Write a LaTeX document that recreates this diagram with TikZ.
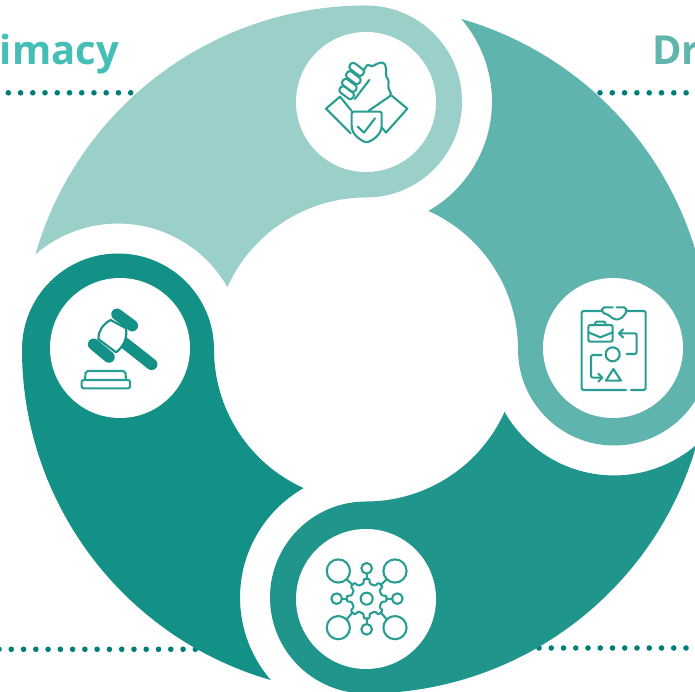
\documentclass[tikz,border=0pt]{standalone}
\usepackage{fontspec}
\setmainfont{Open Sans}
\definecolor{segA}{HTML}{9BD0CA}
\definecolor{segB}{HTML}{5FB4AD}
\definecolor{segC}{HTML}{20958B}
\definecolor{segD}{HTML}{149186}
\definecolor{dotc}{HTML}{007F78}
\definecolor{headA}{HTML}{45BFB5}
\definecolor{headB}{HTML}{62B5AD}
\definecolor{iconc}{HTML}{2A9D92}
\tikzset{
  iconline/.style={draw=iconc,line width=2.1pt,line join=round,line cap=round},
  dotmark/.style={fill=dotc,draw=none},
  headtext/.style={font=\bfseries\fontsize{40}{40}\selectfont,inner sep=0pt},
  whitedisc/.style={fill=white,draw=none}
}
\newcommand{\segm}[2]{%
  \fill[#2,shift={(366pt,342.5pt)},rotate=#1]
    (163.93:344pt) arc[start angle=163.93,end angle=90,radius=344pt]
    arc[start angle=90,end angle=-90,radius=96pt]
    arc[start angle=90,end angle=155.76,radius=152pt]
    arc[start angle=29.7,end angle=130.9,radius=126pt] -- cycle;}
\begin{document}
\begin{tikzpicture}[x=1pt,y=1pt]
\useasboundingbox (0,0) rectangle (695,692);
\clip (0,0) rectangle (695,692);
% text
\node[headtext,text=headA,anchor=base east] (hl) at (119,627) {imacy};
\node[headtext,text=headB,anchor=base west] (hr) at (652,627) {Dr};
% dots
\foreach \i in {0,...,10} \fill[dotmark] ({8.3+12.24*\i},599.2) circle (2.8);
\foreach \i in {0,...,7} \fill[dotmark] ({600+12.3*\i},599.2) circle (2.8);
\foreach \i in {0,...,16} \fill[dotmark] ({-1+12.27*\i},42.7) circle (2.8);
\foreach \i in {0,...,12} \fill[dotmark] ({539+12.25*\i},44) circle (2.8);
% ring
\segm{0}{segA}
\segm{-90}{segB}
\segm{180}{segC}
\segm{90}{segD}
% icons, written in screen coordinates
\begin{scope}[shift={(0,692)},yscale=-1]
\fill[whitedisc] (366,102) circle (70);
\fill[whitedisc] (613,348) circle (70);
\fill[whitedisc] (366,599) circle (70);
\fill[whitedisc] (120,348) circle (70);
% top: hands and shield
\begin{scope}[shift={(290,30)},x=1pt/3,y=1pt/3]
\draw[iconline] (150,200) -- (108,236) -- (182,310);
\draw[iconline] (305,197) -- (352,236) -- (288,308) -- (277,294);
\draw[iconline] (150,200) -- (185,243);
\draw[iconline,rounded corners=2pt] (185,245) -- (275,245) -- (275,292) .. controls (270,315) and (250,330) .. (230,338) .. controls (210,330) and (190,315) .. (185,292) -- cycle;
\draw[iconline] (203,290) -- (222,308) -- (255,265);
\foreach \cx/\cy in {200/118,190/143,178/166,170/188}
  \draw[iconline,rounded corners=3pt,rotate around={37:(\cx,\cy)}] (\cx-24,\cy-11) rectangle (\cx+24,\cy+11);
\draw[iconline,rounded corners=2pt] (222,120) -- (232,103) -- (245,110) -- (268,98) -- (284,98) -- (290,125) -- (286,135) -- (298,155) -- (293,170) -- (305,195) -- (235,243);
\draw[iconline] (238,150) -- (215,180) -- (195,207);
\end{scope}
% right: clipboard
\begin{scope}[shift={(545,275)},x=1pt/3,y=1pt/3]
\draw[iconline,rounded corners=2pt] (168,108) -- (110,108) -- (110,345) -- (243,345);
\draw[iconline,rounded corners=2pt] (258,345) -- (302,345) -- (302,108) -- (242,108);
\draw[iconline,rounded corners=2pt] (203,97) -- (172,97) -- (170,112) -- (195,122) -- (205,133) -- (225,133) -- (238,120) -- (245,112) -- (243,97) -- (215,97);
\draw[iconline,rounded corners=2pt] (130,150) rectangle (203,200);
\draw[iconline,rounded corners=1pt] (150,150) -- (152,140) -- (180,140) -- (182,150);
\draw[iconline] (130,172) -- (166,187) -- (203,172);
\draw[iconline,rounded corners=2pt] (245,237) -- (275,237) -- (275,175) -- (222,175);
\draw[iconline] (234,163) -- (222,175) -- (234,187);
\draw[iconline] (203,238) ellipse [x radius=7pt,y radius=7pt];
\draw[iconline,rounded corners=2pt] (170,240) -- (138,240) -- (138,308) -- (172,308);
\draw[iconline] (160,296) -- (172,308) -- (160,320);
\draw[iconline] (205,282) -- (228,317) -- (183,317) -- cycle;
\end{scope}
% bottom: network gear
\begin{scope}[shift={(290,525)},x=1pt/3,y=1pt/3]
\foreach \cx/\cy in {145/138,315/138,145/308,315/308}
  \draw[iconline] (\cx,\cy) ellipse [x radius=11.6pt,y radius=11.6pt];
\foreach \cx/\cy in {230/130,230/313,140/221,322/221}
  \draw[iconline] (\cx,\cy) ellipse [x radius=5.3pt,y radius=5.3pt];
\draw[iconline] (230,221) ellipse [x radius=6pt,y radius=6pt];
\draw[iconline,rounded corners=1pt,shift={(230,221)}] (-12:46)
  \foreach \a in {0,45,...,315} { -- ({\a-12}:46) -- ({\a-8}:60) -- ({\a+8}:60) -- ({\a+12}:46) } -- cycle;
\draw[iconline] (170,163) -- (188,180);
\draw[iconline] (290,163) -- (272,180);
\draw[iconline] (170,283) -- (188,262);
\draw[iconline] (290,283) -- (272,262);
\draw[iconline] (230,146) -- (230,162);
\draw[iconline] (230,297) -- (230,280);
\draw[iconline] (155,221) -- (171,221);
\draw[iconline] (307,221) -- (289,221);
\end{scope}
% left: gavel
\begin{scope}[shift={(45,275)},x=1pt/3,y=1pt/3]
\draw[segD,line width=11.5pt,line cap=round] (240,205) -- (320,268);
\draw[iconline,draw=segD,fill=white] (197,135) .. controls (170,150) and (160,170) .. (160,192) -- (213,232) .. controls (235,215) and (248,190) .. (243,160) -- cycle;
\draw[segD,line width=11.5pt,line cap=round] (216,118) -- (262,152);
\draw[segD,line width=11.5pt,line cap=round] (146,208) -- (192,246);
\draw[iconline,rounded corners=2pt] (120,315) -- (122,288) -- (241,288) -- (243,315);
\draw[iconline,rounded corners=2pt] (110,315) rectangle (255,340);
\end{scope}
\end{scope}
\end{tikzpicture}
\end{document}
